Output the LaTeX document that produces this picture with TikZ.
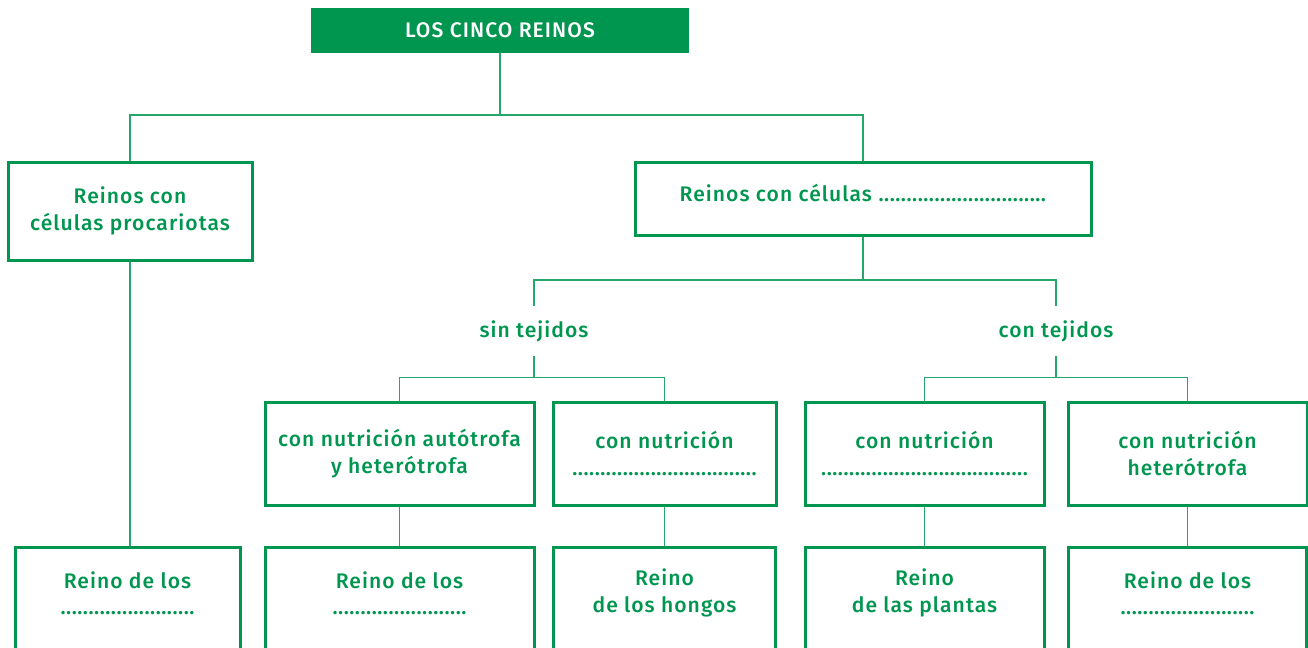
\documentclass[tikz,border=0pt]{standalone}
\usepackage{fontspec}
\setmainfont{Fira Sans}[UprightFont=* Medium, LetterSpace=5]
\definecolor{verde}{RGB}{0,150,80}
\newdimen\px \px=0.02cm
\newcommand\puntos[1]{\foreach\k in {1,...,#1}{\makebox[5.6\px]{.}}}

\begin{document}
\begin{tikzpicture}[x=1\px,y=-1\px,
  texto/.style={text=verde, align=center, font=\fontsize{12}{15}\selectfont},
  caja/.style={texto, draw=verde, line width=3\px, inner sep=0pt},
  titulo/.style={fill=verde, text=white, font=\fontsize{12}{15}\selectfont,
    minimum width=378\px, minimum height=45\px, inner sep=0pt},
  rama/.style={texto, inner xsep=4\px, inner ysep=14\px},
  linea/.style={draw=verde!85, line width=1.6\px}]
  \useasboundingbox (0,0) rectangle (1308,647);
  \clip (0,0) rectangle (1308,647);

  % Title
  \node[titulo] (reinos) at (500,30.5) {LOS CINCO REINOS};

  % First level
  \node[caja, minimum width=244\px, minimum height=98\px] (procar) at (130,211)
    {Reinos con\\células procariotas};
  \node[caja, minimum width=456\px, minimum height=73\px, text depth=12\px] (eucar) at (863,198.5)
    {Reinos con células \puntos{30}};

  % sin / con tejidos
  \node[rama] (sin) at (534,331) {sin tejidos};
  \node[rama] (con) at (1056,331) {con tejidos};

  % Kind of nutrition
  \node[caja, minimum width=269\px, minimum height=103\px] (autohet) at (399.5,453.5)
    {con nutrición autótrofa\\y heterótrofa};
  \node[caja, minimum width=223\px, minimum height=103\px] (nutri1) at (664.5,453.5)
    {con nutrición\\\puntos{33}};
  \node[caja, minimum width=239\px, minimum height=103\px] (nutri2) at (924.5,453.5)
    {con nutrición\\\puntos{37}};
  \node[caja, minimum width=239\px, minimum height=103\px] (hetero) at (1187.5,453.5)
    {con nutrición\\heterótrofa};

  % Kingdoms (boxes run off the bottom edge)
  \node[caja, minimum width=225\px, minimum height=130\px, anchor=north] (moneras) at (127.5,546) {};
  \node[caja, minimum width=269\px, minimum height=130\px, anchor=north] (protoc) at (399.5,546) {};
  \node[caja, minimum width=222\px, minimum height=130\px, anchor=north] (hongos) at (664.5,546) {};
  \node[caja, minimum width=239\px, minimum height=130\px, anchor=north] (plantas) at (924.5,546) {};
  \node[caja, minimum width=238\px, minimum height=130\px, anchor=north] (animales) at (1187.5,546) {};

  \node[texto] (monerastxt) at (127.5,593) {Reino de los\\\puntos{24}};
  \node[texto] (protoctxt) at (399.5,593) {Reino de los\\\puntos{24}};
  \node[texto] (hongostxt) at (664.5,593) {Reino\\de los hongos};
  \node[texto] (plantastxt) at (924.5,593) {Reino\\de las plantas};
  \node[texto] (animalestxt) at (1187.5,593) {Reino de los\\\puntos{24}};

  % Connectors
  \coordinate (r1) at (500,115);
  \draw[linea] (reinos.south) -- (r1);
  \draw[linea] (procar.north) |- (r1) -| (eucar.north);

  \coordinate (r2) at (863,280);
  \draw[linea] (eucar.south) -- (r2);
  \draw[linea] (sin.north) |- (r2) -| (con.north);

  \coordinate (r3) at (534,377.5);
  \draw[linea] (sin.south) -- (r3);
  \draw[linea] (autohet.north) |- (r3) -| (nutri1.north);

  \coordinate (r4) at (1056,377.5);
  \draw[linea] (con.south) -- (r4);
  \draw[linea] (nutri2.north) |- (r4) -| (hetero.north);

  \draw[linea] (procar.south) -- (procar.south |- moneras.north);
  \draw[linea] (autohet.south) -- (protoc.north);
  \draw[linea] (nutri1.south) -- (hongos.north);
  \draw[linea] (nutri2.south) -- (plantas.north);
  \draw[linea] (hetero.south) -- (animales.north);
\end{tikzpicture}
\end{document}
